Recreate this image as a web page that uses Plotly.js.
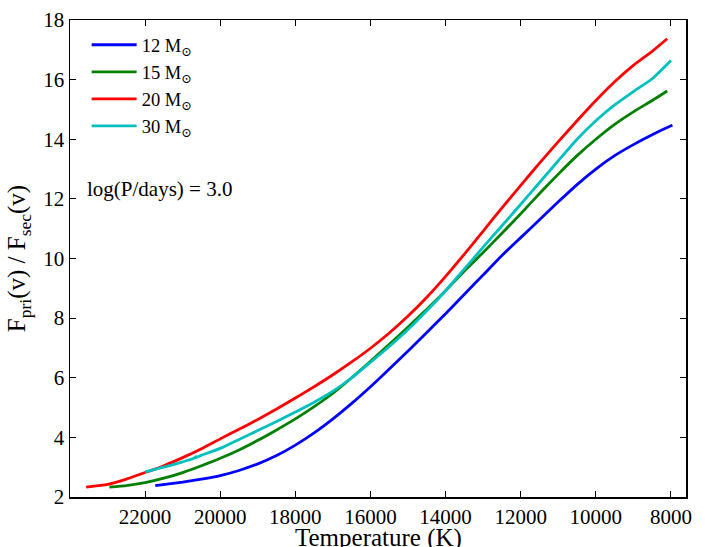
<!DOCTYPE html>
<html>
<head>
<meta charset="utf-8">
<script src="https://cdn.plot.ly/plotly-3.0.1.min.js"></script>
<style>html,body{margin:0;padding:0;background:#fff;}#chart{width:706px;height:547px;}</style>
</head>
<body>
<div id="chart"></div>
<script>
// Temperature (K) and flux ratio for each primary mass
const names = ["12 M<sub>⊙</sub>", "15 M<sub>⊙</sub>", "20 M<sub>⊙</sub>", "30 M<sub>⊙</sub>"];
const colors = ["#0000ff", "#008000", "#ff0000", "#00bfbf"];
const xTitle = "Temperature (K)";
const yTitle = "F<sub>pri</sub>(v) / F<sub>sec</sub>(v)";
const note = "log(P/days) = 3.0";

const T12 = [21730, 21000, 20500, 20000, 19500, 19000, 18500, 18000, 17500, 17000, 16500, 16000, 15500, 15000, 14500, 14000, 13500, 13000, 12500, 12000, 11500, 11000, 10500, 10000, 9500, 9000, 8500, 8000, 7960];
const R12 = [2.38, 2.5, 2.6, 2.72, 2.89, 3.11, 3.39, 3.74, 4.15, 4.62, 5.14, 5.7, 6.29, 6.9, 7.52, 8.15, 8.8, 9.45, 10.1, 10.7, 11.3, 11.9, 12.48, 13.0, 13.45, 13.82, 14.15, 14.45, 14.47];

const T15 = [22950, 22500, 22000, 21500, 21000, 20500, 20000, 19500, 19000, 18500, 18000, 17500, 17000, 16500, 16000, 15500, 15000, 14500, 14000, 13500, 13000, 12500, 12000, 11500, 11000, 10500, 10000, 9500, 9000, 8500, 8100];
const R15 = [2.33, 2.38, 2.48, 2.63, 2.82, 3.05, 3.3, 3.58, 3.9, 4.25, 4.62, 5.03, 5.48, 6.0, 6.55, 7.12, 7.7, 8.3, 8.92, 9.58, 10.2, 10.85, 11.5, 12.18, 12.83, 13.45, 14.0, 14.5, 14.92, 15.3, 15.62];

const T20 = [23570, 23000, 22500, 22000, 21500, 21000, 20500, 20000, 19500, 19000, 18500, 18000, 17500, 17000, 16500, 16000, 15500, 15000, 14500, 14000, 13500, 13000, 12500, 12000, 11500, 11000, 10500, 10000, 9500, 9000, 8500, 8100];
const R20 = [2.33, 2.42, 2.6, 2.82, 3.05, 3.32, 3.62, 3.95, 4.27, 4.6, 4.95, 5.32, 5.7, 6.1, 6.53, 6.99, 7.5, 8.07, 8.7, 9.4, 10.15, 10.92, 11.7, 12.45, 13.2, 13.92, 14.62, 15.3, 15.93, 16.48, 16.95, 17.37];

const T30 = [22000, 21500, 21000, 20700, 20620, 20700, 20500, 20000, 19500, 19000, 18500, 18000, 17500, 17000, 16500, 16000, 15500, 15000, 14500, 14000, 13500, 13000, 12500, 12000, 11500, 11000, 10500, 10000, 9500, 9000, 8500, 8000];
const R30 = [2.84, 3.0, 3.18, 3.3, 3.37, 3.3, 3.4, 3.63, 3.93, 4.23, 4.53, 4.85, 5.18, 5.55, 6.0, 6.52, 7.05, 7.62, 8.25, 8.92, 9.65, 10.38, 11.1, 11.82, 12.55, 13.28, 14.0, 14.62, 15.15, 15.6, 16.03, 16.64];

const xs = [T12, T15, T20, T30];
const ys = [R12, R15, R20, R30];

const traces = xs.map((x, i) => ({
  x: x, y: ys[i], type: "scatter", mode: "lines", name: names[i],
  line: {color: colors[i], width: 2.8, shape: "spline", smoothing: 0.5}
}));

const font = "Liberation Serif, DejaVu Serif, serif";
const layout = {
  width: 706, height: 547,
  margin: {l: 70, r: 20, t: 20, b: 50},
  paper_bgcolor: "#fff", plot_bgcolor: "#fff",
  font: {family: font, size: 21, color: "#000"},
  showlegend: true,
  legend: {x: 0.027, y: 0.987, xanchor: "left", yanchor: "top", bgcolor: "rgba(0,0,0,0)",
           borderwidth: 0, font: {family: font, size: 18.5}, itemwidth: 45, tracegroupgap: 0},
  xaxis: {
    range: [24000, 7600], autorange: false,
    tickvals: [22000, 20000, 18000, 16000, 14000, 12000, 10000, 8000],
    ticktext: ["22000", "20000", "18000", "16000", "14000", "12000", "10000", "8000"],
    ticks: "inside", ticklen: 6, tickwidth: 1, tickcolor: "#000",
    showline: true, linecolor: "#000", linewidth: 1.5, mirror: "ticks",
    showgrid: false, zeroline: false,
    tickfont: {family: font, size: 21}
  },
  yaxis: {
    range: [2, 18], autorange: false,
    tickvals: [2, 4, 6, 8, 10, 12, 14, 16, 18],
    ticks: "inside", ticklen: 6, tickwidth: 1, tickcolor: "#000",
    showline: true, linecolor: "#000", linewidth: 1.5, mirror: "ticks",
    showgrid: false, zeroline: false,
    tickfont: {family: font, size: 21},
    title: {text: yTitle, font: {family: font, size: 25}, standoff: 10}
  },
  annotations: [
    {xref: "paper", yref: "paper", x: 0.025, y: 0.645, xanchor: "left", yanchor: "middle",
     text: note, showarrow: false, font: {family: font, size: 21}},
    {xref: "paper", yref: "paper", x: 0.5, y: -0.086, xanchor: "center", yanchor: "middle",
     text: xTitle, showarrow: false, font: {family: font, size: 25}}
  ]
};

Plotly.newPlot("chart", traces, layout, {displayModeBar: false, staticPlot: true});
</script>
</body>
</html>
